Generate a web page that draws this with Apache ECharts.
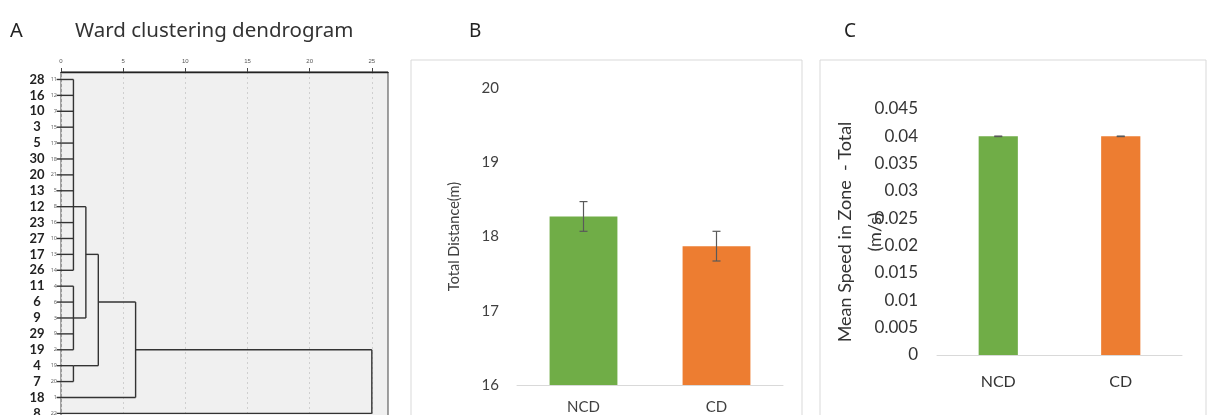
<!DOCTYPE html>
<html><head><meta charset="utf-8">
<script src="https://cdn.jsdelivr.net/npm/echarts@6/dist/echarts.min.js"></script>
<style>html,body{margin:0;padding:0;background:#fff}#c{width:1208px;height:415px}</style>
</head><body><div id="c"></div><script>
// ---- Panel A: dendrogram data ----
const leafLabels = ['28','16','10','3','5','30','20','13','12','23','27','17','26','11','6','9','29','19','4','7','18','8'];
const caseNumbers = ['11','12','7','15','17','18','21','5','8','16','10','13','14','4','6','3','9','2','19','20','1','22'];
const mergeHeights = [1, 1, 1, 2, 3, 6, 25];
const mergeLeaves = [[0,1,2,3,4,5,6,7,8,9,10,11,12],[13,14,15,16,17],[18,19],[],[],[20],[21]];
const mergeSubclusters = [[],[],[],[0,1],[3,2],[4],[5]];
const mergeJoinRows = [8,15,18,11,14,17,null];
const distanceTicks = [0,5,10,15,20,25];

// ---- Panels B, C ----
const groups = ['NCD','CD'];
const distMeans = [18.27, 17.87];
const distErrors = [0.2, 0.2];
const speedMeans = [0.04, 0.04];
const speedErrors = [0.00005, 0.00005];
const barColors = ['#70ad47','#ed7d31'];

const segs = [];
mergeHeights.forEach((h, m) => {
  const rows = [];
  mergeLeaves[m].forEach(i => { segs.push([-0.35, i, h, i]); rows.push(i); });
  mergeSubclusters[m].forEach(c => { const r = mergeJoinRows[c]; segs.push([mergeHeights[c], r, h, r]); rows.push(r); });
  segs.push([h, Math.min(...rows), h, Math.max(...rows)]);
});

const chart = echarts.init(document.getElementById('c'), null, {renderer:'canvas'});

function errRender(params, api) {
  const x = api.value(0);
  const lo = api.coord([x, api.value(1)]);
  const hi = api.coord([x, api.value(2)]);
  const w = 4;
  const st = {stroke:'#595959', lineWidth:1.2};
  return {type:'group', children:[
    {type:'line', shape:{x1:lo[0],y1:lo[1],x2:hi[0],y2:hi[1]}, style:st},
    {type:'line', shape:{x1:lo[0]-w,y1:lo[1],x2:lo[0]+w,y2:lo[1]}, style:st},
    {type:'line', shape:{x1:hi[0]-w,y1:hi[1],x2:hi[0]+w,y2:hi[1]}, style:st}
  ]};
}

const font = 'Lato';
chart.setOption({
  animation:false,
  grid:[
    {left:61, top:72, width:327, height:363, outerBoundsMode:'none', containLabel:false, show:true, backgroundColor:'#f0f0f0', borderColor:'#444', borderWidth:1},
    {left:517, top:88, width:266, height:297, outerBoundsMode:'none', containLabel:false},
    {left:937, top:109, width:245, height:246, outerBoundsMode:'none', containLabel:false}
  ],
  xAxis:[
    {gridIndex:0, type:'value', position:'top', min:0, max:26.3, interval:5,
     axisLine:{show:true, onZero:false, lineStyle:{color:'#222', width:1.3}},
     axisTick:{show:true, length:4, lineStyle:{color:'#444'}, customValues:distanceTicks},
     axisLabel:{fontSize:6, color:'#555', margin:8, customValues:distanceTicks,
       formatter:v => (distanceTicks.indexOf(v) >= 0 ? String(v) : '')},
     splitLine:{show:true, lineStyle:{type:[2,3], color:'#cfcfcf'}}},
    {gridIndex:1, type:'category', data:groups,
     axisLine:{lineStyle:{color:'#d9d9d9'}}, axisTick:{show:false},
     axisLabel:{fontSize:15, color:'#404040', margin:15, fontFamily:font}},
    {gridIndex:2, type:'category', data:groups,
     axisLine:{lineStyle:{color:'#d9d9d9'}}, axisTick:{show:false},
     axisLabel:{fontSize:16, color:'#333', margin:19, fontFamily:font}}
  ],
  yAxis:[
    {gridIndex:0, type:'value', inverse:true, min:-0.47, max:22.36, show:false},
    {gridIndex:1, type:'value', min:16, max:20, interval:1,
     axisLine:{show:false}, axisTick:{show:false}, splitLine:{show:false},
     axisLabel:{fontSize:15, color:'#404040', margin:18, fontFamily:font},
     name:'Total Distance(m)', nameLocation:'middle', nameGap:55, nameMoveOverlap:false,
     nameTextStyle:{fontSize:14.5, color:'#404040', fontFamily:font}},
    {gridIndex:2, type:'value', min:0, max:0.045, interval:0.005,
     axisLine:{show:false}, axisTick:{show:false}, splitLine:{show:false},
     axisLabel:{fontSize:17, color:'#333', margin:19, fontFamily:font},
     name:'Mean Speed in Zone  - Total\n(m/s)', nameLocation:'middle', nameGap:47, nameMoveOverlap:false,
     nameTextStyle:{fontSize:18, color:'#333', fontFamily:font, lineHeight:30}}
  ],
  series:[
    {type:'custom', xAxisIndex:0, yAxisIndex:0, data:segs, encode:{x:[0,2], y:[1,3]}, clip:false,
     renderItem:(params, api) => {
       const p1 = api.coord([api.value(0), api.value(1)]);
       const p2 = api.coord([api.value(2), api.value(3)]);
       return {type:'line', shape:{x1:p1[0],y1:p1[1],x2:p2[0],y2:p2[1]}, style:{stroke:'#333', lineWidth:1.4}};
     }},
    {type:'custom', xAxisIndex:0, yAxisIndex:0, clip:false,
     data:leafLabels.map((l, i) => [0, i]), encode:{x:0, y:1},
     renderItem:(params, api) => {
       const p = api.coord([api.value(0), api.value(1)]);
       const i = params.dataIndex;
       return {type:'group', children:[
         {type:'text', x:p[0]-24, y:p[1], style:{text:leafLabels[i], align:'center', verticalAlign:'middle',
           font:'bold 13px "Lato"', fill:'#222'}},
         {type:'text', x:p[0]-4, y:p[1], style:{text:caseNumbers[i], align:'right', verticalAlign:'middle',
           font:'5.5px "Noto Sans"', fill:'#666'}}
       ]};
     }},
    {type:'bar', xAxisIndex:1, yAxisIndex:1, barWidth:'51%',
     data:distMeans.map((v, i) => ({value:v, itemStyle:{color:barColors[i]}}))},
    {type:'custom', xAxisIndex:1, yAxisIndex:1, renderItem:errRender, z:10,
     data:groups.map((g, i) => [i, distMeans[i]-distErrors[i], distMeans[i]+distErrors[i]]), encode:{x:0, y:[1,2]}},
    {type:'bar', xAxisIndex:2, yAxisIndex:2, barWidth:'32%',
     data:speedMeans.map((v, i) => ({value:v, itemStyle:{color:barColors[i]}}))},
    {type:'custom', xAxisIndex:2, yAxisIndex:2, renderItem:errRender, z:10,
     data:groups.map((g, i) => [i, speedMeans[i]-speedErrors[i], speedMeans[i]+speedErrors[i]]), encode:{x:0, y:[1,2]}}
  ],
  graphic:[
    {type:'rect', shape:{x:411, y:60, width:391, height:380}, style:{fill:'none', stroke:'#d9d9d9', lineWidth:1}},
    {type:'rect', shape:{x:820, y:60, width:386, height:380}, style:{fill:'none', stroke:'#d9d9d9', lineWidth:1}},
    {type:'text', x:10, y:31, style:{text:'A', font:'20px "Noto Sans"', fill:'#222', verticalAlign:'middle'}},
    {type:'text', x:75, y:31, style:{text:'Ward clustering dendrogram', font:'20.5px "Noto Sans"', fill:'#333', verticalAlign:'middle'}},
    {type:'text', x:469, y:32, style:{text:'B', font:'19px "Noto Sans"', fill:'#222', verticalAlign:'middle'}},
    {type:'text', x:844, y:32, style:{text:'C', font:'19px "Noto Sans"', fill:'#222', verticalAlign:'middle'}}
  ]
});
</script></body></html>
